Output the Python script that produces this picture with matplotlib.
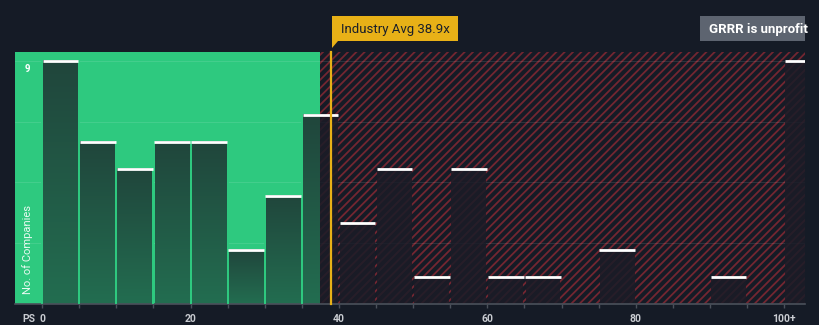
import numpy as np
import matplotlib.pyplot as plt
from matplotlib.patches import Rectangle, Polygon
from matplotlib.colors import LinearSegmentedColormap

plt.rcParams['font.family'] = ['Roboto', 'DejaVu Sans']
plt.rcParams['hatch.linewidth'] = 1.3

# histogram of P/S ratios (bin start, width 5), last bin is 100+
bin_starts = [0, 5, 10, 15, 20, 25, 30, 35, 40, 45, 50, 55, 60, 65, 70, 75, 80, 85, 90, 95, 100]
counts = [9, 6, 5, 6, 6, 2, 4, 7, 3, 5, 1, 5, 1, 1, 0, 2, 0, 0, 1, 0, 9]
bin_width = 5
tick_vals = [0, 20, 40, 60, 80, 100]
tick_labels = ['0', '20', '40', '60', '80', '100+']
industry_avg = 38.9
green_end = 37.4
ymax_label = 9

bg = '#151b26'
green = '#2ec97f'
hatch_red = '#732631'

fig = plt.figure(figsize=(8.2, 3.25), dpi=100, facecolor=bg)
ax = fig.add_axes([15 / 820, 21 / 325, 790 / 820, 252 / 325])
ax.set_facecolor(bg)
x0, x1 = -3.65, 102.8
y0, y1 = 0, 9.33

# background regions
ax.add_patch(Rectangle((x0, y0), green_end - x0, y1 - y0, facecolor=green, edgecolor='none', zorder=0))
ax.add_patch(Rectangle((green_end, y0), x1 - green_end, y1 - y0, facecolor=bg, edgecolor=hatch_red,
                       hatch='////', linewidth=0, zorder=0))

# faint gridlines
for g in np.linspace(0, ymax_label, 5)[1:]:
    ax.axhline(g, color='white', alpha=0.1, lw=0.8, zorder=1)

# bars
cmap_g = LinearSegmentedColormap.from_list('g', ['#236d50', '#20463c'])
grad = np.linspace(0, 1, 100).reshape(-1, 1)
for xs, c in zip(bin_starts, counts):
    if c == 0:
        continue
    left, right = xs + 0.15, xs + bin_width - 0.15
    # part over the green zone
    if left < green_end:
        ax.imshow(grad, extent=(left, min(right, green_end), 0, c), cmap=cmap_g,
                  aspect='auto', origin='lower', zorder=2)
        for ex in (xs, xs + bin_width):
            if ex < green_end:
                ax.plot([ex, ex], [0, c], color=green, lw=1.3, zorder=3, solid_capstyle='butt')
    # part over the red zone
    if right > green_end:
        rl = max(left, green_end)
        ax.add_patch(Rectangle((rl, 0), right - rl, c, facecolor='#1b1c27', alpha=0.86,
                               edgecolor='none', zorder=2))
    ax.plot([xs + 0.1, xs + bin_width - 0.1], [c, c], color='white', lw=2, zorder=4,
            solid_capstyle='butt')

ax.set_xlim(x0, x1)
ax.set_ylim(y0, y1)

# industry average line
ax.plot([industry_avg, industry_avg], [0, y1], color='#e8b117', lw=1.6, zorder=5, clip_on=False)

# axes styling
for s in ['top', 'right', 'left']:
    ax.spines[s].set_visible(False)
ax.spines['bottom'].set_color('#4a505a')
ax.spines['bottom'].set_linewidth(1.2)
ax.set_yticks([])
ax.set_xticks(np.arange(0, 101, 5), minor=True)
ax.set_xticks(tick_vals)
ax.set_xticklabels(tick_labels)
ax.tick_params(axis='x', which='both', colors='#4a505a', length=3, width=1)
ax.tick_params(axis='x', which='major', labelcolor='#c9ccd1', labelsize=7.5, pad=4)
for lab in ax.get_xticklabels():
    lab.set_fontweight('bold')

ax.text(-2.0, ymax_label - 0.3, str(ymax_label), color='white', fontsize=7, fontweight='bold',
        ha='center', va='center', zorder=6)
ax.text(-2.0, 2.0, 'No. of Companies', color='white', alpha=0.9, fontsize=8, rotation=90,
        ha='center', va='center', zorder=6)
fig.text(22 / 820, 1 - 319 / 325, 'PS', color='#c9ccd1', fontsize=7.5, fontweight='bold',
         ha='left', va='center')

# industry avg label
fig.patches.append(Rectangle((332 / 820, 1 - 41 / 325), 126 / 820, 25 / 325, transform=fig.transFigure,
                             facecolor='#e8b117', edgecolor='none', figure=fig))
fig.patches.append(Polygon([(332 / 820, 1 - 41 / 325), (338 / 820, 1 - 41 / 325), (332 / 820, 1 - 48 / 325)],
                           closed=True, transform=fig.transFigure, facecolor='#e8b117',
                           edgecolor='none', figure=fig))
fig.text(341 / 820, 1 - 29 / 325, 'Industry Avg 38.9x', color='#1a1f2a', fontsize=9.5,
         ha='left', va='center')

# unprofitable label, cut by the right edge as in the original
fig.patches.append(Rectangle((700 / 820, 1 - 41 / 325), 105 / 820, 25 / 325, transform=fig.transFigure,
                             facecolor='#5d6470', edgecolor='none', figure=fig))
fig.text(709 / 820, 1 - 29 / 325, 'GRRR is unprofit', color='white', fontsize=9.5,
         fontweight='bold', ha='left', va='center')

fig.savefig('out.png', dpi=100, facecolor=bg)
